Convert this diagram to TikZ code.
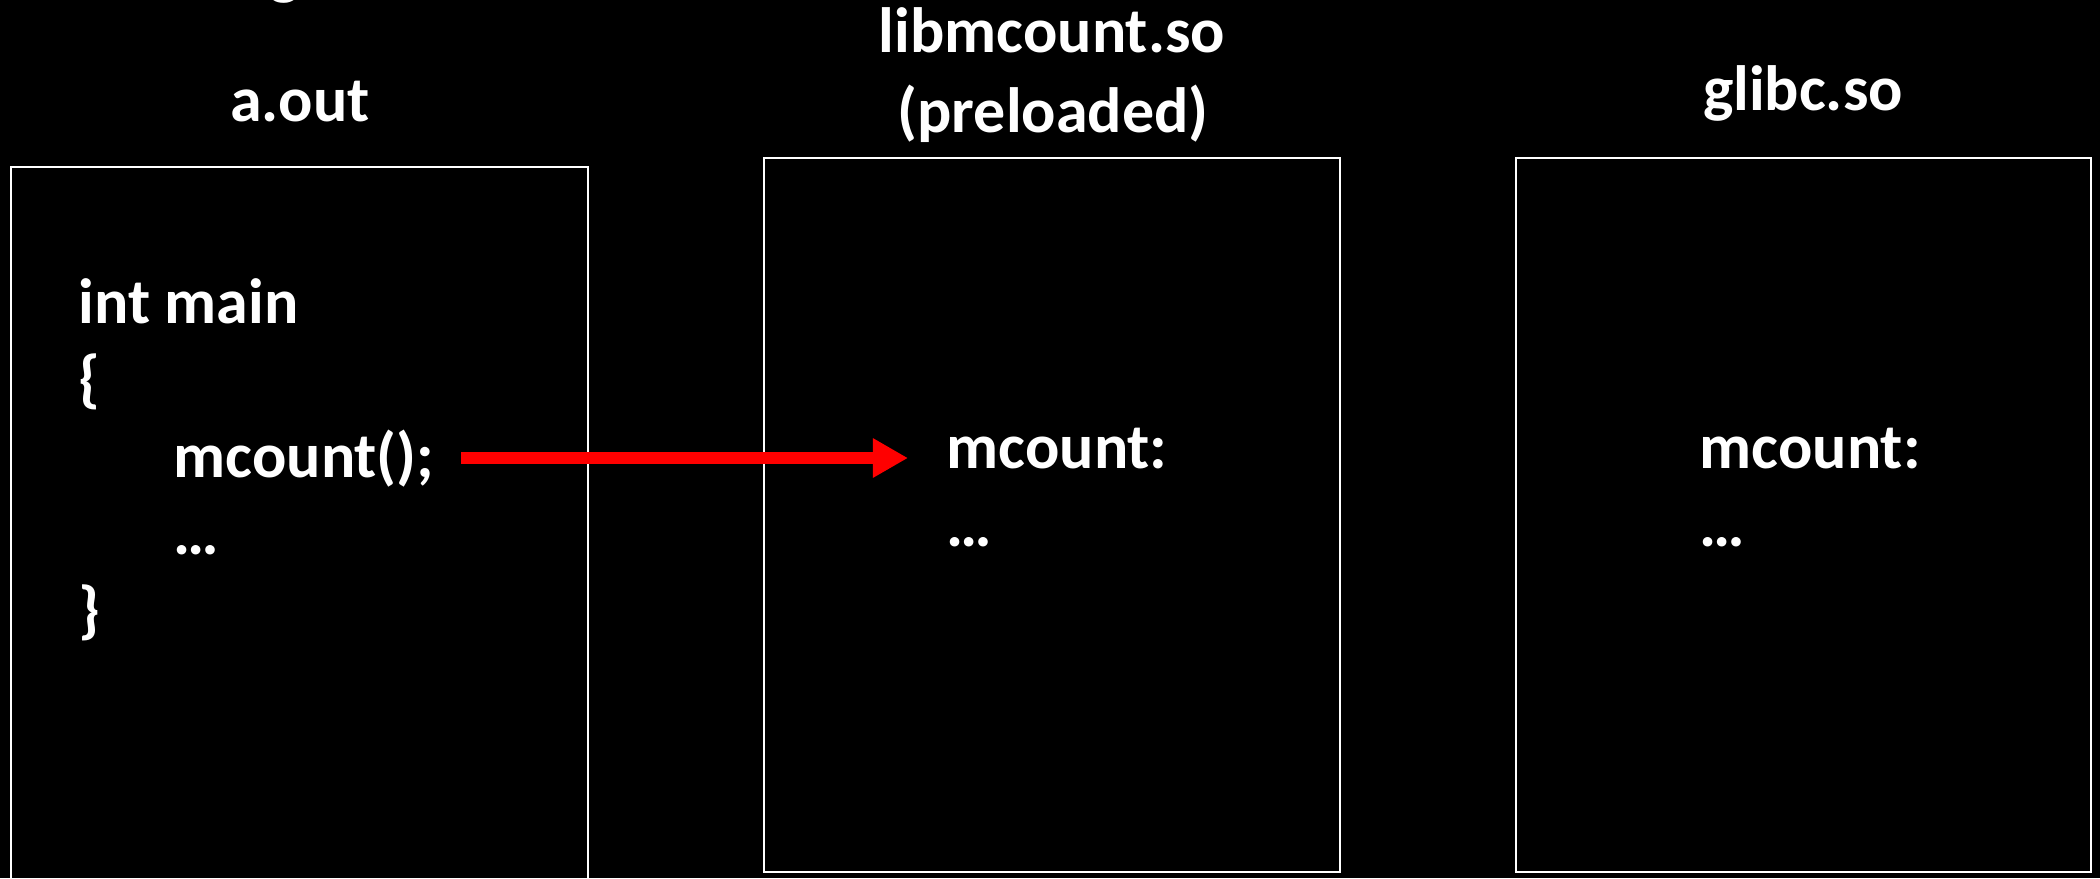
\documentclass[tikz,border=0pt]{standalone}
\usepackage{fontspec}
\setmainfont{Carlito}
\usetikzlibrary{arrows.meta}
\begin{document}
\begin{tikzpicture}[x=0.01cm,y=-0.01cm,
  txt/.style={text=white,font=\fontsize{18.2}{22}\selectfont\bfseries,inner sep=0pt,anchor=base west},
  ttl/.style={text=white,font=\fontsize{18.2}{22}\selectfont\bfseries,inner sep=0pt,anchor=base},
  panel/.style={draw=white,line width=0.75pt},
  callarrow/.style={draw=red,line width=3.4pt,-{Triangle[length=0.35cm,width=0.37cm]}}]
\fill[black] (0,0) rectangle (2100,878);
\useasboundingbox (0,0) rectangle (2100,878);
% panels
\draw[panel] (11,890) -- (11,167) -- (588,167) -- (588,890);
\draw[panel] (764,158) rectangle (1340,872);
\draw[panel] (1516,158) rectangle (2091,872);
% titles
\node[ttl] (tg) at (285,-8) {g};
\node[ttl] (aout) at (300,121) {a.out};
\node[ttl] (libm) at (1052,52) {libmcount.so};
\node[ttl] (prel) at (1053,132) {(preloaded)};
\node[ttl] (glibc) at (1803,110) {glibc.so};
% a.out code
\node[txt] (intmain) at (78,323) {int main};
\node[txt] (lbrace) at (78,400) {\{};
\node[txt] (call) at (173,477) {mcount();};
\node[txt] (dots1) at (173,554) {…};
\node[txt] (rbrace) at (78,631) {\}};
% libmcount code
\node[txt] (lmc) at (946,468) {mcount:};
\node[txt] (ldots) at (946,546) {…};
% glibc code
\node[txt] (gmc) at (1699,468) {mcount:};
\node[txt] (gdots) at (1699,546) {…};
% arrow
\draw[callarrow] ([shift={(26,-19)}]call.base east) -- ([shift={(-38,-10)}]lmc.base west);
\end{tikzpicture}
\end{document}
